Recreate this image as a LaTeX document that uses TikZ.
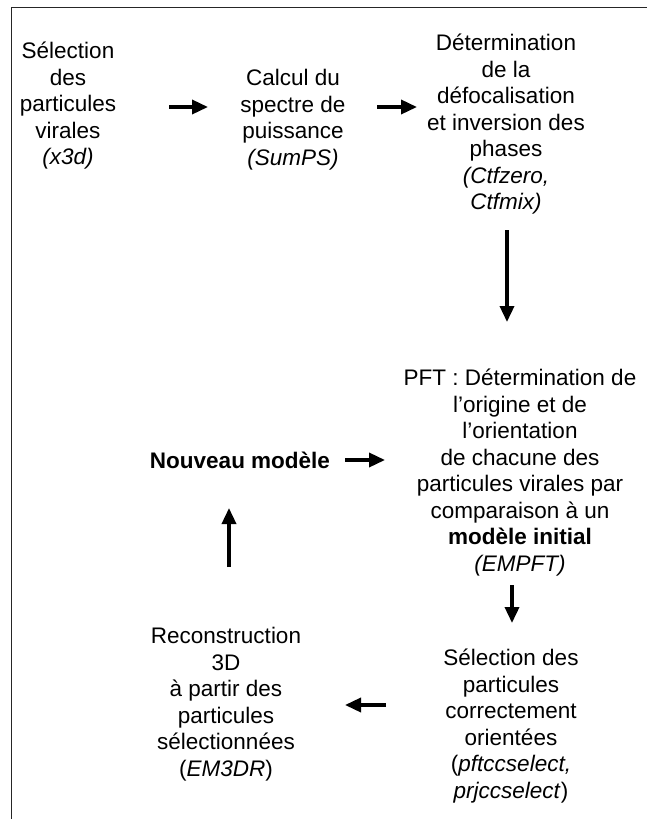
\documentclass[tikz,border=0pt]{standalone}
\usepackage{fontspec}
\setmainfont{Liberation Sans}
\usetikzlibrary{arrows.meta}
\begin{document}
\begin{tikzpicture}[x=1pt,y=1pt,
  txt/.style={align=center, inner sep=0pt, anchor=north, font=\fontsize{22.5}{26.5}\selectfont},
  boldtxt/.style={inner sep=0pt, anchor=center, font=\bfseries\fontsize{22.5}{26.5}\selectfont},
  arr/.style={line width=3.5pt, -{Triangle[length=16pt,width=14pt]}},
  frameline/.style={line width=1.3pt, draw=black!85}]
\useasboundingbox (0,0) rectangle (647,-819);
\draw[frameline] (647,-7.5) -- (11.5,-7.5) -- (11.5,-819);

\node[txt] (sel) at (68,-42) {Sélection\\des\\particules\\virales\\\textit{(x3d)}};
\node[txt] (calc) at (293,-69) {Calcul du\\spectre de\\puissance\\\textit{(SumPS)}};
\node[txt] (ctf) at (506,-34) {Détermination\\de la\\défocalisation\\et inversion des\\phases\\\textit{(Ctfzero,}\\\textit{Ctfmix)}};
\node[txt] (pft) at (520,-369) {PFT : Détermination de\\l’origine et de\\l’orientation\\de chacune des\\particules virales par\\comparaison à un\\\textbf{modèle initial}\\\textit{(EMPFT)}};
\node[boldtxt] (nouv) at (240,-460) {Nouveau modèle};
\node[txt] (rec) at (226,-627) {Reconstruction\\3D\\à partir des\\particules\\sélectionnées\\(\textit{EM3DR})};
\node[txt] (selp) at (511,-649) {Sélection des\\particules\\correctement\\orientées\\(\textit{pftccselect,}\\\textit{prjccselect})};

\coordinate (a1s) at (169,-107); \coordinate (a1e) at (208,-107);
\coordinate (a2s) at (377,-107); \coordinate (a2e) at (417,-107);
\coordinate (a3s) at (507,-230); \coordinate (a3e) at (507,-322);
\coordinate (a4s) at (512,-585); \coordinate (a4e) at (512,-623);
\coordinate (a5s) at (386,-705); \coordinate (a5e) at (345,-705);
\coordinate (a6s) at (229,-567); \coordinate (a6e) at (229,-508);
\coordinate (a7s) at (345,-460); \coordinate (a7e) at (385,-460);

\draw[arr] (a1s) -- (a1e);
\draw[arr] (a2s) -- (a2e);
\draw[arr] (a3s) -- (a3e);
\draw[arr] (a4s) -- (a4e);
\draw[arr] (a5s) -- (a5e);
\draw[arr] (a6s) -- (a6e);
\draw[arr] (a7s) -- (a7e);
\end{tikzpicture}
\end{document}
